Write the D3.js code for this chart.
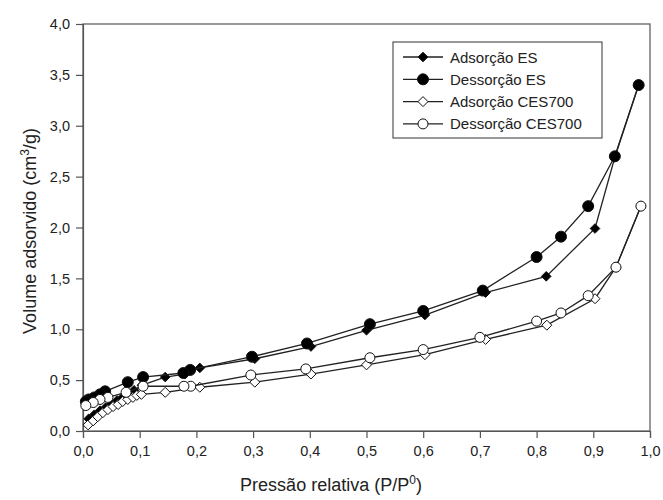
<!DOCTYPE html>
<html><head><meta charset="utf-8">
<script src="https://cdn.jsdelivr.net/npm/d3@7"></script>
<style>body{margin:0;background:#fff}svg{display:block}text{font-family:"Liberation Sans",Arial,sans-serif;fill:#222}</style>
</head><body><svg id="c" width="663" height="500"></svg>
<script>
const seriesNames = ["Adsorção ES","Dessorção ES","Adsorção CES700","Dessorção CES700"];
const adsES_p = [0.01,0.02,0.03,0.04,0.05,0.06,0.07,0.08,0.09,0.104,0.145,0.18,0.206,0.303,0.402,0.5,0.603,0.71,0.817,0.903,0.938,0.98];
const adsES_v = [0.12,0.16,0.2,0.23,0.26,0.3,0.33,0.37,0.4,0.45,0.53,0.56,0.62,0.71,0.83,0.99,1.14,1.36,1.52,1.99,2.69,3.4];
const desES_p = [0.98,0.938,0.891,0.843,0.80,0.705,0.6,0.506,0.395,0.298,0.189,0.177,0.106,0.079,0.039,0.03,0.02,0.01,0.005];
const desES_v = [3.4,2.7,2.21,1.91,1.71,1.38,1.18,1.05,0.86,0.73,0.6,0.57,0.53,0.48,0.39,0.36,0.33,0.31,0.29];
const adsCES_p = [0.009,0.018,0.026,0.035,0.044,0.053,0.062,0.07,0.079,0.088,0.095,0.103,0.145,0.206,0.303,0.402,0.5,0.603,0.71,0.818,0.903,0.94,0.984];
const adsCES_v = [0.06,0.1,0.14,0.18,0.21,0.24,0.26,0.29,0.31,0.33,0.35,0.36,0.38,0.43,0.48,0.56,0.65,0.75,0.9,1.04,1.3,1.61,2.21];
const desCES_p = [0.984,0.94,0.891,0.843,0.80,0.70,0.6,0.506,0.393,0.296,0.19,0.178,0.106,0.076,0.044,0.03,0.018,0.005];
const desCES_v = [2.21,1.61,1.33,1.16,1.08,0.92,0.8,0.72,0.61,0.55,0.44,0.44,0.44,0.38,0.33,0.31,0.28,0.25];
const xTicks = [0,0.1,0.2,0.3,0.4,0.5,0.6,0.7,0.8,0.9,1.0];
const yTicks = [0,0.5,1.0,1.5,2.0,2.5,3.0,3.5,4.0];

const svg = d3.select("#c");
const x = d3.scaleLinear().domain([0,1]).range([83,650]);
const y = d3.scaleLinear().domain([0,4]).range([431,24]);
const fmt = d => d3.format(".1f")(d).replace(".",",");
const axisCol = "#555";

svg.append("rect").attr("x",83).attr("y",24).attr("width",567).attr("height",407)
  .attr("fill","none").attr("stroke",axisCol).attr("stroke-width",1.2);

const gx = svg.append("g").attr("transform","translate(0,431)")
  .call(d3.axisBottom(x).tickValues(xTicks).tickFormat(fmt).tickSize(7).tickPadding(8));
const gy = svg.append("g").attr("transform","translate(83,0)")
  .call(d3.axisLeft(y).tickValues(yTicks).tickFormat(fmt).tickSize(7).tickPadding(6));
[gx,gy].forEach(g=>{
  g.select(".domain").attr("stroke",axisCol).attr("stroke-width",1.2);
  g.selectAll(".tick line").attr("stroke",axisCol).attr("stroke-width",1.2);
  g.selectAll("text").attr("font-size",14.5).attr("font-family","Liberation Sans, Arial, sans-serif").attr("fill","#222");
});

const xt = svg.append("text").attr("x",331).attr("y",491).attr("text-anchor","middle").attr("font-size",18);
xt.append("tspan").text("Pressão relativa (P/P");
xt.append("tspan").attr("dy",-7).attr("font-size",12).text("0");
xt.append("tspan").attr("dy",7).text(")");
const yt = svg.append("text").attr("transform","translate(36,231) rotate(-90)").attr("text-anchor","middle").attr("font-size",18);
yt.append("tspan").text("Volume adsorvido (cm");
yt.append("tspan").attr("dy",-7).attr("font-size",12).text("3");
yt.append("tspan").attr("dy",7).text("/g)");

const series = [
  {name:seriesNames[0], p:adsES_p, v:adsES_v, shape:"diamond", fill:"#000"},
  {name:seriesNames[1], p:desES_p, v:desES_v, shape:"circle", fill:"#000"},
  {name:seriesNames[2], p:adsCES_p, v:adsCES_v, shape:"diamond", fill:"#fff"},
  {name:seriesNames[3], p:desCES_p, v:desCES_v, shape:"circle", fill:"#fff"}
];
const line = d3.line().x(d=>x(d[0])).y(d=>y(d[1]));
function marker(g, s, cx, cy){
  if(s.shape==="circle"){
    g.append("circle").attr("cx",cx).attr("cy",cy).attr("r", s.fill==="#000"?5.5:5)
      .attr("fill",s.fill).attr("stroke","#111").attr("stroke-width",1);
  } else {
    const r = s.fill==="#000"?4.8:5;
    g.append("path").attr("d",`M${cx},${cy-r}L${cx+r},${cy}L${cx},${cy+r}L${cx-r},${cy}Z`)
      .attr("fill",s.fill).attr("stroke","#111").attr("stroke-width",1);
  }
}
series.forEach(s=>{
  const pts = s.p.map((p,i)=>[p,s.v[i]]);
  const g = svg.append("g");
  g.append("path").attr("d",line(pts)).attr("fill","none").attr("stroke","#222").attr("stroke-width",1.3);
  pts.forEach(d=>marker(g,s,x(d[0]),y(d[1])));
});

const lg = svg.append("g");
lg.append("rect").attr("x",393).attr("y",42).attr("width",209).attr("height",96)
  .attr("fill","#fff").attr("stroke","#333").attr("stroke-width",1);
series.forEach((s,i)=>{
  const ly = 57 + i*22.3;
  lg.append("line").attr("x1",403).attr("x2",443).attr("y1",ly).attr("y2",ly).attr("stroke","#222").attr("stroke-width",1.3);
  marker(lg,s,423,ly);
  lg.append("text").attr("x",450).attr("y",ly+5.5).attr("font-size",15).text(s.name);
});
</script></body></html>
